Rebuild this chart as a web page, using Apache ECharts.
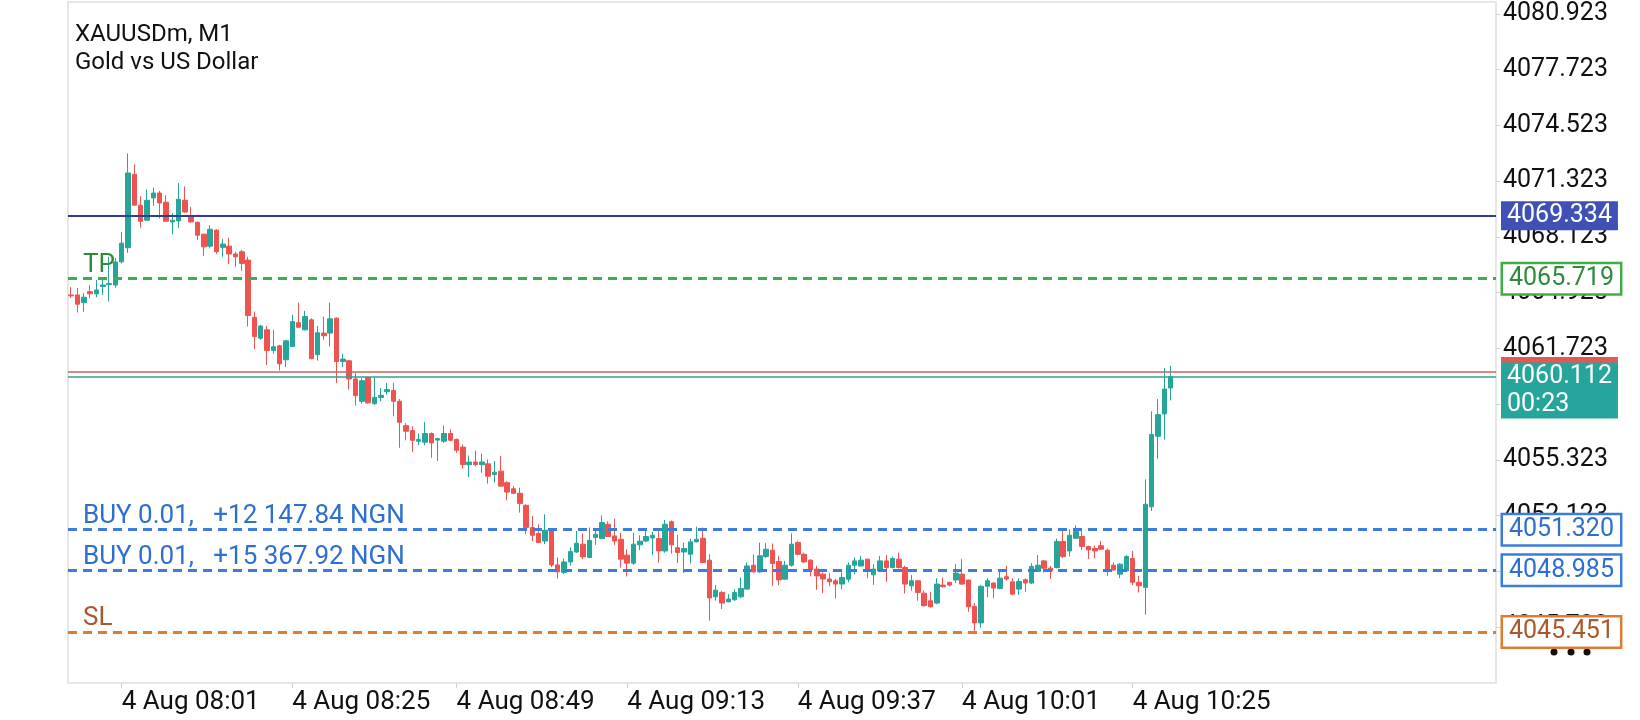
<!DOCTYPE html>
<html>
<head>
<meta charset="utf-8">
<title>XAUUSDm, M1</title>
<script src="https://cdn.jsdelivr.net/npm/echarts@6/dist/echarts.min.js"></script>
<style>
  html, body { margin: 0; padding: 0; background: #fff; }
  #chart { width: 1640px; height: 720px; }
</style>
</head>
<body>
<div id="chart"></div>
<script>
// bars, oldest first
const opens = [
  4064.79, 4064.79, 4064.35, 4064.98, 4064.85, 4065.27, 4065.38, 4065.36, 4066.69, 4067.50,
  4071.71, 4069.94, 4069.08, 4070.36, 4070.64, 4070.11, 4068.98, 4069.04, 4070.22, 4069.31,
  4068.96, 4068.28, 4067.59, 4068.51, 4067.52, 4067.59, 4067.14, 4067.27, 4066.79, 4063.51,
  4062.31, 4062.79, 4061.60, 4061.87, 4061.07, 4061.83, 4063.20, 4062.79, 4063.36, 4061.36,
  4062.60, 4062.60, 4063.46, 4060.97, 4061.01, 4059.97, 4058.69, 4060.06, 4058.55, 4058.91,
  4059.24, 4059.31, 4058.69, 4057.29, 4057.01, 4056.40, 4056.34, 4056.84, 4056.46, 4056.40,
  4056.84, 4056.50, 4056.06, 4055.05, 4055.20, 4055.05, 4055.10, 4054.48, 4054.68, 4054.02,
  4053.67, 4053.41, 4052.72, 4051.44, 4051.11, 4050.67, 4051.34, 4049.30, 4048.87, 4049.47,
  4050.04, 4050.49, 4049.72, 4050.87, 4050.81, 4051.63, 4050.96, 4050.77, 4049.86, 4049.40,
  4050.45, 4050.67, 4050.85, 4050.81, 4050.10, 4051.78, 4050.29, 4050.04, 4049.91, 4050.62,
  4050.83, 4049.57, 4047.47, 4047.72, 4047.18, 4047.30, 4047.47, 4047.91, 4049.28, 4048.90,
  4049.78, 4050.14, 4049.50, 4048.48, 4049.28, 4050.58, 4049.91, 4049.57, 4049.06, 4048.77,
  4048.49, 4048.39, 4048.20, 4048.48, 4049.28, 4049.24, 4049.63, 4048.73, 4048.96, 4049.53,
  4049.15, 4049.63, 4049.15, 4048.10, 4048.39, 4047.68, 4047.24, 4047.11, 4048.14, 4048.30,
  4048.44, 4048.77, 4048.43, 4046.92, 4045.97, 4048.07, 4048.26, 4047.95, 4048.62, 4048.33,
  4047.91, 4048.45, 4048.26, 4048.92, 4049.53, 4049.11, 4049.15, 4050.64, 4050.10, 4050.83,
  4050.93, 4050.36, 4050.24, 4050.40, 4050.14, 4049.28, 4048.77, 4048.96, 4049.67, 4048.30,
  4048.01, 4052.64, 4056.68, 4057.96, 4059.45
]
const closes = [
  4064.74, 4064.26, 4064.66, 4064.86, 4065.08, 4065.36, 4065.44, 4066.68, 4067.76, 4071.79,
  4069.94, 4069.02, 4070.22, 4070.64, 4070.07, 4069.02, 4069.08, 4070.28, 4069.55, 4068.98,
  4068.22, 4067.55, 4068.56, 4067.27, 4067.71, 4067.14, 4066.98, 4066.60, 4063.61, 4062.40,
  4063.01, 4061.60, 4061.82, 4060.84, 4062.16, 4063.26, 4062.94, 4063.55, 4061.13, 4062.62,
  4062.45, 4063.42, 4060.97, 4061.11, 4059.97, 4059.01, 4059.87, 4058.60, 4058.91, 4059.03,
  4059.36, 4058.69, 4057.48, 4056.97, 4056.45, 4056.50, 4056.84, 4056.30, 4056.55, 4056.84,
  4056.45, 4055.88, 4055.06, 4055.20, 4055.05, 4055.20, 4054.39, 4054.62, 4053.82, 4053.48,
  4053.41, 4052.83, 4051.44, 4051.00, 4050.58, 4051.29, 4049.30, 4048.90, 4049.47, 4050.07,
  4050.54, 4049.76, 4050.71, 4051.06, 4051.73, 4050.93, 4050.67, 4049.63, 4049.40, 4050.49,
  4050.66, 4050.93, 4051.00, 4050.10, 4051.63, 4050.45, 4050.01, 4050.24, 4050.62, 4050.77,
  4049.44, 4047.40, 4047.85, 4047.11, 4047.34, 4047.72, 4047.95, 4049.24, 4048.90, 4049.82,
  4050.20, 4049.38, 4048.44, 4049.28, 4050.49, 4049.91, 4049.47, 4049.01, 4048.67, 4048.49,
  4048.33, 4048.20, 4048.58, 4049.28, 4049.53, 4049.57, 4049.06, 4049.06, 4049.53, 4049.15,
  4049.67, 4049.15, 4048.20, 4048.39, 4047.72, 4046.96, 4046.90, 4048.20, 4048.05, 4048.14,
  4048.83, 4048.20, 4046.90, 4045.97, 4048.07, 4048.39, 4047.97, 4048.54, 4048.49, 4047.62,
  4048.35, 4048.26, 4049.21, 4049.28, 4049.11, 4048.96, 4050.64, 4049.78, 4051.00, 4051.21,
  4050.36, 4050.16, 4050.10, 4050.20, 4048.96, 4049.01, 4049.34, 4049.78, 4048.30, 4048.10,
  4052.78, 4056.78, 4057.92, 4059.39, 4060.11
]
const lows = [
  4064.62, 4063.78, 4063.83, 4064.60, 4064.66, 4064.79, 4064.41, 4065.20, 4066.60, 4067.21,
  4069.94, 4068.66, 4069.08, 4069.90, 4069.18, 4069.00, 4068.28, 4068.64, 4069.50, 4068.95,
  4067.94, 4067.02, 4067.46, 4067.14, 4066.98, 4066.55, 4066.41, 4066.16, 4062.98, 4061.68,
  4062.22, 4060.78, 4061.42, 4060.46, 4060.65, 4061.80, 4062.90, 4062.75, 4061.10, 4061.02,
  4062.22, 4061.83, 4059.74, 4060.65, 4059.36, 4058.44, 4058.55, 4058.55, 4058.50, 4058.69,
  4059.07, 4057.83, 4056.02, 4056.45, 4055.79, 4056.17, 4056.17, 4055.45, 4055.26, 4056.30,
  4056.40, 4055.73, 4054.82, 4054.34, 4054.95, 4054.59, 4053.96, 4054.02, 4053.80, 4053.02,
  4053.35, 4052.30, 4051.06, 4050.67, 4050.55, 4050.49, 4049.17, 4048.52, 4048.77, 4049.25,
  4050.00, 4049.63, 4049.70, 4050.45, 4050.80, 4050.90, 4050.45, 4049.15, 4048.64, 4049.30,
  4050.15, 4050.60, 4049.87, 4049.44, 4050.00, 4049.95, 4049.40, 4048.83, 4049.38, 4050.60,
  4049.40, 4046.10, 4047.24, 4046.77, 4047.15, 4047.25, 4047.40, 4047.90, 4048.85, 4048.85,
  4049.70, 4048.10, 4048.14, 4048.45, 4049.20, 4049.85, 4049.40, 4048.64, 4047.87, 4047.68,
  4048.07, 4047.38, 4047.91, 4048.30, 4048.77, 4049.20, 4048.54, 4048.16, 4048.90, 4048.33,
  4049.10, 4049.10, 4047.66, 4047.82, 4047.24, 4046.90, 4046.85, 4047.05, 4048.00, 4048.05,
  4048.26, 4048.15, 4046.61, 4045.43, 4045.70, 4047.44, 4047.38, 4047.90, 4048.40, 4047.55,
  4047.57, 4047.76, 4048.20, 4048.90, 4048.87, 4048.49, 4049.10, 4049.70, 4049.78, 4050.80,
  4050.16, 4049.63, 4049.67, 4050.15, 4048.67, 4048.95, 4048.54, 4048.90, 4048.14, 4047.72,
  4046.44, 4052.39, 4055.39, 4056.49, 4058.74
]
const highs = [
  4065.24, 4065.19, 4064.89, 4065.36, 4065.65, 4065.65, 4066.98, 4066.90, 4068.41, 4072.91,
  4072.28, 4070.45, 4070.84, 4070.95, 4070.76, 4070.51, 4069.50, 4071.21, 4071.02, 4069.84,
  4069.00, 4068.30, 4068.79, 4068.55, 4068.00, 4068.07, 4067.27, 4067.37, 4066.98, 4063.84,
  4063.07, 4063.01, 4062.79, 4061.93, 4062.22, 4063.65, 4064.35, 4063.88, 4063.45, 4063.01,
  4063.55, 4064.35, 4063.50, 4061.42, 4061.05, 4060.31, 4060.02, 4060.10, 4060.06, 4059.45,
  4059.74, 4059.74, 4058.82, 4057.45, 4057.26, 4056.84, 4057.50, 4056.90, 4056.60, 4057.29,
  4057.07, 4056.55, 4056.21, 4055.58, 4055.86, 4055.68, 4055.35, 4055.26, 4055.54, 4054.10,
  4053.82, 4053.73, 4052.78, 4052.11, 4051.63, 4052.20, 4051.35, 4049.72, 4049.67, 4050.30,
  4051.25, 4051.10, 4051.44, 4051.35, 4052.14, 4051.80, 4051.95, 4051.15, 4050.20, 4051.15,
  4051.00, 4051.25, 4051.19, 4051.30, 4051.88, 4051.85, 4051.02, 4050.58, 4050.81, 4051.50,
  4051.44, 4049.91, 4048.14, 4047.80, 4047.62, 4047.91, 4048.58, 4049.44, 4049.91, 4050.58,
  4050.55, 4050.53, 4049.82, 4049.53, 4051.11, 4050.68, 4050.00, 4049.63, 4049.25, 4048.87,
  4048.83, 4048.50, 4048.87, 4049.44, 4049.72, 4049.82, 4049.65, 4049.34, 4049.82, 4049.86,
  4049.78, 4050.01, 4049.25, 4048.72, 4048.40, 4047.84, 4047.76, 4048.54, 4048.58, 4048.33,
  4049.34, 4049.63, 4048.45, 4047.11, 4048.14, 4048.54, 4048.30, 4048.96, 4049.25, 4048.52,
  4048.52, 4048.52, 4049.40, 4049.86, 4049.59, 4049.25, 4050.81, 4051.34, 4051.34, 4051.57,
  4051.25, 4050.40, 4050.40, 4050.68, 4050.24, 4049.44, 4049.40, 4049.86, 4050.10, 4048.67,
  4054.21, 4058.11, 4058.82, 4060.59, 4060.73
]

// time axis: bar slot of each label and its text
const tickIndex = [8, 35, 61, 88, 115, 141, 168]
const tickLabels = ['4 Aug 08:01', '4 Aug 08:25', '4 Aug 08:49', '4 Aug 09:13', '4 Aug 09:37', '4 Aug 10:01', '4 Aug 10:25']

// price scale labels
const priceTicks = [4045.723, 4048.923, 4052.123, 4055.323, 4058.523, 4061.723, 4064.923, 4068.123, 4071.323, 4074.523, 4077.723, 4080.923]

// trade levels
const levelNames = ['', 'TP', 'BUY 0.01,   +12 147.84 NGN', 'BUY 0.01,   +15 367.92 NGN', 'SL']
const levelValues = [4069.334, 4065.719, 4051.320, 4048.985, 4045.451]
const askPrice = 4060.40
const bidPrice = 4060.112
const barTimer = '00:23'

const slotCount = 226 // bars that fit the visible window
const categories = []
for (let i = 0; i < slotCount; i++) categories.push(String(i))

const candles = opens.map((o, i) => [o, closes[i], lows[i], highs[i]])

const FONT = 'Roboto'
const UP = '#26a69a'
const DOWN = '#ef5350'
const LABEL_SIZE = 25

// line / text / box colours per level
const levelStyles = [
  { line: '#2f3d94', type: 'solid', width: 2, text: '#fff', fill: '#3f51b5', border: '#3f51b5' },
  { line: '#3fae49', type: [9, 6], width: 3, text: '#2f8a3c', fill: '#fff', border: '#3fae49' },
  { line: '#3b7ddd', type: [9, 6], width: 3, text: '#2d6fcf', fill: '#fff', border: '#3b7ddd' },
  { line: '#3b7ddd', type: [9, 6], width: 3, text: '#2d6fcf', fill: '#fff', border: '#3b7ddd' },
  { line: '#e07b30', type: [9, 6], width: 3, text: '#a8582a', fill: '#fff', border: '#e07b30' },
]

const boxLabel = (text, st) => ({
  show: true,
  position: 'end',
  distance: st.fill === '#fff' ? 7 : 5,
  formatter: text,
  color: st.text,
  backgroundColor: st.fill,
  borderColor: st.border,
  borderWidth: st.fill === '#fff' ? 2.5 : 0,
  padding: [3, 6, 1, 6],
  fontFamily: FONT,
  fontSize: LABEL_SIZE,
  lineHeight: 25,
})

const markData = []
// ask and bid first so the bid box sits over the ask box
markData.push({
  yAxis: askPrice,
  lineStyle: { color: '#cf5f5a', width: 1.5, type: 'solid' },
  label: boxLabel(askPrice.toFixed(3), { text: '#df5a55', fill: '#df5a55', border: '#df5a55' }),
})
markData.push({
  yAxis: bidPrice,
  lineStyle: { color: UP, width: 1.5, type: 'solid' },
  label: Object.assign(boxLabel(bidPrice.toFixed(3) + '\n' + barTimer, { text: '#fff', fill: UP, border: UP }), {
    lineHeight: 28, padding: [0, 6, 0, 6], offset: [0, 14],
  }),
})
levelValues.forEach((v, i) => {
  const st = levelStyles[i]
  markData.push({
    yAxis: v,
    lineStyle: { color: st.line, width: st.width, type: st.type },
    label: boxLabel(v.toFixed(3), st),
  })
  if (levelNames[i]) {
    // name above the line on the left
    markData.push({
      yAxis: v,
      lineStyle: { color: 'rgba(0,0,0,0)', width: 1 },
      label: {
        show: true,
        position: 'insideStartTop',
        distance: [15, 0],
        formatter: levelNames[i],
        color: st.text,
        fontFamily: FONT,
        fontSize: 26,
      },
    })
  }
})

const chart = echarts.init(document.getElementById('chart'))

chart.setOption({
  animation: false,
  textStyle: { fontFamily: FONT },
  title: {
    text: 'XAUUSDm, M1\nGold vs US Dollar',
    left: 75,
    top: 21,
    padding: 0,
    textStyle: { fontFamily: FONT, fontSize: 24, fontWeight: 'normal', color: '#111', lineHeight: 28 },
  },
  grid: {
    left: 68,
    right: 144,
    top: 2,
    bottom: 37,
    show: true,
    borderColor: '#e6e6e6',
    borderWidth: 2,
  },
  xAxis: {
    type: 'category',
    data: categories,
    boundaryGap: true,
    axisLine: { show: false },
    axisTick: {
      show: true,
      alignWithLabel: true,
      interval: (idx) => tickIndex.includes(idx),
      length: 5,
      lineStyle: { color: '#d0d0d0' },
    },
    axisLabel: {
      interval: (idx) => tickIndex.includes(idx),
      formatter: (val) => tickLabels[tickIndex.indexOf(Number(val))] || '',
      align: 'left',
      margin: 6,
      fontSize: 26,
      color: '#111',
    },
    splitLine: { show: false },
  },
  yAxis: {
    type: 'value',
    position: 'right',
    min: 4042.523,
    max: 4081.6,
    axisLine: { show: false },
    splitLine: { show: false },
    axisTick: {
      show: true,
      customValues: priceTicks,
      length: 4,
      lineStyle: { color: '#d0d0d0' },
    },
    axisLabel: {
      customValues: priceTicks,
      formatter: (v) => v.toFixed(3),
      margin: 7,
      fontSize: LABEL_SIZE,
      color: '#111',
    },
  },
  series: [
    {
      type: 'candlestick',
      data: candles,
      barWidth: 5,
      itemStyle: {
        color: UP,
        color0: DOWN,
        borderColor: UP,
        borderColor0: DOWN,
        borderWidth: 1,
      },
      markLine: {
        silent: true,
        symbol: ['none', 'none'],
        animation: false,
        data: markData,
      },
    },
  ],
  graphic: [
    // the "more" dots under the price boxes
    { type: 'circle', shape: { cx: 1554, cy: 652, r: 3.5 }, style: { fill: '#111' } },
    { type: 'circle', shape: { cx: 1571, cy: 652, r: 3.5 }, style: { fill: '#111' } },
    { type: 'circle', shape: { cx: 1587, cy: 652, r: 3.5 }, style: { fill: '#111' } },
  ],
})
</script>
</body>
</html>
